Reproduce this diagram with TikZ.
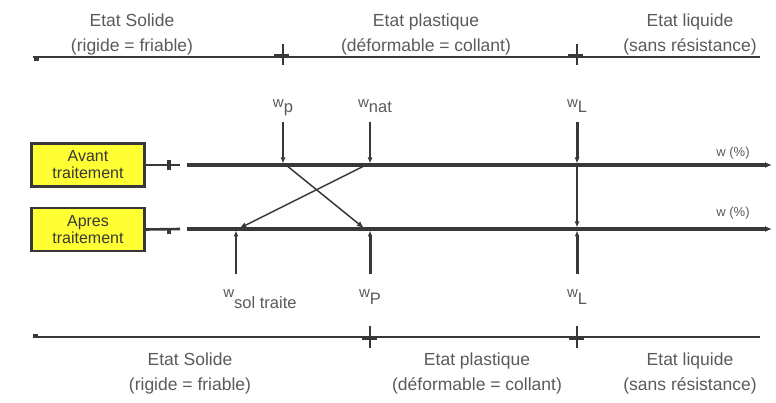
\documentclass[tikz,border=0pt]{standalone}
\usepackage{fontspec}
\setmainfont{Liberation Sans}
\usetikzlibrary{arrows.meta}
\definecolor{ink}{HTML}{383838}
\definecolor{txt}{HTML}{5A5A5A}
\definecolor{boxfill}{HTML}{FFFF33}
\newcommand\wlab[2]{{\fontsize{15}{15}\selectfont w}\raisebox{-#2}{\fontsize{16.5}{16.5}\selectfont #1}}
\tikzset{
  statetxt/.style={font=\fontsize{17.5}{17.5}\selectfont, text=txt, inner sep=0, anchor=base},
  wtxt/.style={text=txt, inner sep=0, anchor=base},
  pcttxt/.style={font=\fontsize{13}{13}\selectfont, text=txt, inner sep=0, anchor=base},
  treatbox/.style={draw=ink, line width=2.6pt, fill=boxfill, minimum width=113pt, minimum height=43pt,
    align=center, font=\fontsize{16}{17}\selectfont, text=ink, inner sep=0},
  scaleline/.style={draw=ink, line width=1.8pt},
  mainline/.style={draw=ink, line width=3.4pt},
  tip/.style={-{Latex[length=6pt,width=5pt]}},
}
\begin{document}
\begin{tikzpicture}[x=1pt,y=-1pt]
\useasboundingbox (0,0) rectangle (776,403);

% ---------- top scale ----------
\coordinate (tl) at (33,57);
\coordinate (tr) at (760,57);
\coordinate (tx1) at (283,57);
\coordinate (tx2) at (577,57);
\draw[scaleline] (tl) -- (tr);
\fill[ink] (34,57) rectangle (39,61);
\foreach \c in {tx1,tx2}{
  \draw[ink, line width=1.5pt] ([yshift=-8pt]\c) -- ([yshift=13pt]\c);
  \draw[ink, line width=3pt] ([xshift=-9pt,yshift=1pt]\c) -- ([xshift=6pt,yshift=1pt]\c);
}
\node[statetxt] (ts1) at (132,27) {Etat Solide};
\node[statetxt] (ts2) at (132,52) {(rigide = friable)};
\node[statetxt] (tp1) at (426,27) {Etat plastique};
\node[statetxt] (tp2) at (426,52) {(déformable = collant)};
\node[statetxt] (tq1) at (690,27) {Etat liquide};
\node[statetxt] (tq2) at (690,52) {(sans résistance)};

% ---------- boxes ----------
\node[treatbox] (avant) at (88,165) {Avant\\traitement};
\node[treatbox] (apres) at (88,229.5) {Apres\\traitement};

\coordinate (a0) at (180,165);
\coordinate (a1) at (187,165);
\coordinate (a2) at (772,165);
\coordinate (b0) at (180,229);
\coordinate (b1) at (187,229);
\coordinate (b2) at (772,229);
\draw[ink, line width=2.6pt] (avant.east) -- (a0);
\draw[ink, line width=2.6pt] (apres.east) -- (b0);
\fill[ink] (167,160) rectangle (170.5,170);
\fill[ink] (167,229) rectangle (171,234);
\draw[mainline, -{Latex[length=7pt,width=6pt]}] (a1) -- (a2);
\draw[mainline, -{Latex[length=7pt,width=6pt]}] (b1) -- (b2);
\node[pcttxt] (pa) at (733,157) {w (\%)};
\node[pcttxt] (pb) at (733,217) {w (\%)};

% ---------- points on the lines ----------
\coordinate (p1) at (283,165);
\coordinate (n1) at (370,165);
\coordinate (L1) at (577,165);
\coordinate (s2) at (236,229);
\coordinate (p2) at (370,229);
\coordinate (L2) at (577,229);

% top labels
\node[wtxt] (wp) at (283,108) {\wlab{p}{5pt}};
\node[wtxt] (wn) at (375,108) {\wlab{nat}{5pt}};
\node[wtxt] (wl) at (577,108) {\wlab{L}{5pt}};
\coordinate (wpt) at (283,122);
\coordinate (wnt) at (370,122);
\coordinate (wlt) at (577,122);
\draw[ink, line width=1.2pt, tip, shorten >=1.5pt] (wpt) -- (p1);
\draw[ink, line width=2.4pt, tip, shorten >=1.5pt] (wnt) -- (n1);
\draw[ink, line width=3pt, tip, shorten >=1.5pt] (wlt) -- (L1);
\draw[ink, line width=1.4pt, tip, shorten >=1.5pt] (L1) -- (L2);

% crossing lines
\draw[ink, line width=1.5pt, -{Latex[length=7pt,width=6pt]}, shorten <=1.5pt, shorten >=1.5pt] ([xshift=3pt]p1) -- ([xshift=-5pt]p2);
\draw[ink, line width=1.5pt, -{Latex[length=7pt,width=6pt]}, shorten <=1.5pt, shorten >=1.5pt] ([xshift=-4pt]n1) -- ([xshift=2pt]s2);

% bottom labels
\node[wtxt] (ws) at (260,298) {\wlab{sol traite}{10pt}};
\node[wtxt] (wP) at (370,298) {\wlab{P}{7pt}};
\node[wtxt] (wL) at (577,298) {\wlab{L}{7pt}};
\coordinate (wsb) at (236,274);
\coordinate (wpb) at (370,274);
\coordinate (wlb) at (577,274);
\draw[ink, line width=1.2pt, tip, shorten >=1.5pt] (wsb) -- (s2);
\draw[ink, line width=3pt, tip, shorten >=1.5pt] (wpb) -- (p2);
\draw[ink, line width=3pt, tip, shorten >=1.5pt] (wlb) -- (L2);

% ---------- bottom scale ----------
\coordinate (bl) at (33,337);
\coordinate (br) at (760,337);
\coordinate (bx1) at (370,337);
\coordinate (bx2) at (577,337);
\draw[scaleline] (bl) -- (br);
\fill[ink] (33,333.5) rectangle (38,337);
\foreach \c in {bx1,bx2}{
  \draw[ink, line width=1.5pt] ([yshift=-11pt]\c) -- ([yshift=11pt]\c);
  \draw[ink, line width=3pt] ([xshift=-8pt,yshift=-1pt]\c) -- ([xshift=7pt,yshift=-1pt]\c);
}
\node[statetxt] (bs1) at (190,365) {Etat Solide};
\node[statetxt] (bs2) at (190,390) {(rigide = friable)};
\node[statetxt] (bp1) at (477,365) {Etat plastique};
\node[statetxt] (bp2) at (477,390) {(déformable = collant)};
\node[statetxt] (bq1) at (690,365) {Etat liquide};
\node[statetxt] (bq2) at (690,390) {(sans résistance)};
\end{tikzpicture}
\end{document}
